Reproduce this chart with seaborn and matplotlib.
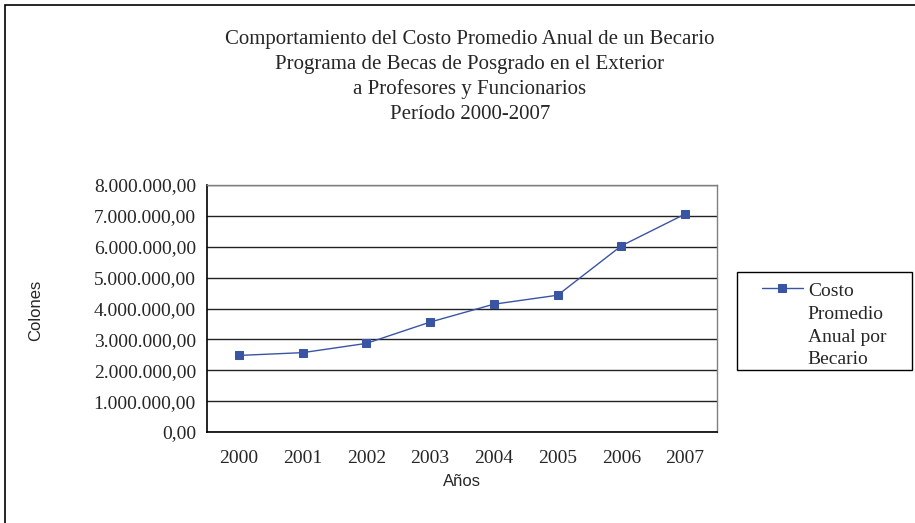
import matplotlib
matplotlib.use("Agg")
import matplotlib.pyplot as plt
import seaborn as sns
import pandas as pd
from matplotlib.patches import Rectangle
from matplotlib.ticker import FixedLocator, FuncFormatter
from matplotlib.legend_handler import HandlerLine2D

years = ["2000", "2001", "2002", "2003", "2004", "2005", "2006", "2007"]
costo = [2480000, 2570000, 2870000, 3560000, 4140000, 4430000, 6030000, 7060000]
y_ticks = [0, 1000000, 2000000, 3000000, 4000000, 5000000, 6000000, 7000000, 8000000]
series_label = "Costo\nPromedio\nAnual por\nBecario"
title_lines = [
    "Comportamiento del Costo Promedio Anual de un Becario",
    "Programa de Becas de Posgrado en el Exterior",
    "a Profesores y Funcionarios",
    "Período 2000-2007",
]

df = pd.DataFrame({"Año": years, "Costo": costo})

sns.set_style("white")
serif = ["Liberation Serif", "DejaVu Serif"]
sans = ["Liberation Sans", "DejaVu Sans"]

W, H = 915, 523
fig = plt.figure(figsize=(W / 100, H / 100), dpi=100)
ax = fig.add_axes([207 / W, 1 - 432 / H, (717 - 207) / W, (432 - 185) / H])

color = "#3A54A4"
sns.lineplot(data=df, x="Año", y="Costo", ax=ax, color=color, marker="s",
             markersize=6, markeredgecolor=color, linewidth=1.0, label=series_label,
             sort=False)

ax.set_xlim(-0.5, len(years) - 0.5)
ax.set_ylim(0, 8000000)
ax.set_yticks(y_ticks)
ax.yaxis.set_major_formatter(FuncFormatter(
    lambda v, p: f"{v:,.2f}".replace(",", "X").replace(".", ",").replace("X", ".")))
ax.grid(axis="y", color="#222222", linewidth=1.0)
ax.grid(axis="x", visible=False)

ax.set_xticks(range(len(years)))
ax.set_xticklabels(years)
ax.xaxis.set_minor_locator(FixedLocator([i + 0.5 for i in range(-1, len(years))]))
ax.tick_params(axis="x", which="major", length=0, pad=13)
ax.tick_params(axis="x", which="minor", length=5, width=1, color="black", direction="out")
ax.tick_params(axis="y", which="major", length=5, width=1, color="black", direction="out", pad=3)
for lab in ax.get_xticklabels() + ax.get_yticklabels():
    lab.set_fontfamily(serif)
    lab.set_fontsize(14)

for s in ["left", "bottom"]:
    ax.spines[s].set_color("black")
    ax.spines[s].set_linewidth(1.2)
for s in ["top", "right"]:
    ax.spines[s].set_color("#808080")
    ax.spines[s].set_linewidth(1.0)

ax.set_xlabel("")
ax.set_ylabel("")
fig.text(36 / W, 1 - 310 / H, "Colones", rotation=90, ha="center", va="center",
         fontfamily=sans, fontsize=12)
fig.text(462 / W, 1 - 481 / H, "Años", ha="center", va="center",
         fontfamily=sans, fontsize=12)

fig.text(470 / W, 1 - 77 / H, "\n".join(title_lines), ha="center", va="center",
         fontfamily=serif, fontsize=15, linespacing=1.4)


class OffsetLineHandler(HandlerLine2D):
    def __init__(self, xshift, yshift, **kw):
        super().__init__(**kw)
        self.xshift = xshift
        self.yshift = yshift

    def create_artists(self, legend, orig_handle, xdescent, ydescent, width, height,
                       fontsize, trans):
        return super().create_artists(legend, orig_handle, xdescent - self.xshift,
                                      ydescent - 2 * self.yshift, width - self.xshift,
                                      height, fontsize, trans)


ax.get_legend().remove()
handles, labels = ax.get_legend_handles_labels()
leg_fs = 14
leg = fig.legend(handles, labels, loc="upper left",
                 bbox_to_anchor=(737 / W, 1 - 370 / H, 175 / W, 98 / H), mode="expand",
                 borderaxespad=0, frameon=True, fancybox=False,
                 edgecolor="black", framealpha=1, borderpad=0.1,
                 title=" ", title_fontsize=4.5,
                 prop={"family": serif, "size": leg_fs},
                 handlelength=64 / (leg_fs * 100 / 72),
                 handletextpad=0.25, labelspacing=0.2,
                 handler_map={handles[0]: OffsetLineHandler(xshift=16.6, yshift=26.7)})
leg.get_frame().set_linewidth(1.0)
for t in leg.get_texts():
    t.set_linespacing(1.45)

fig.patches.append(Rectangle((5 / W, -0.05), 1.2, 1 - 5 / H + 0.05,
                             transform=fig.transFigure, fill=False,
                             edgecolor="black", linewidth=1.2))

fig.savefig("out.png", dpi=100)
